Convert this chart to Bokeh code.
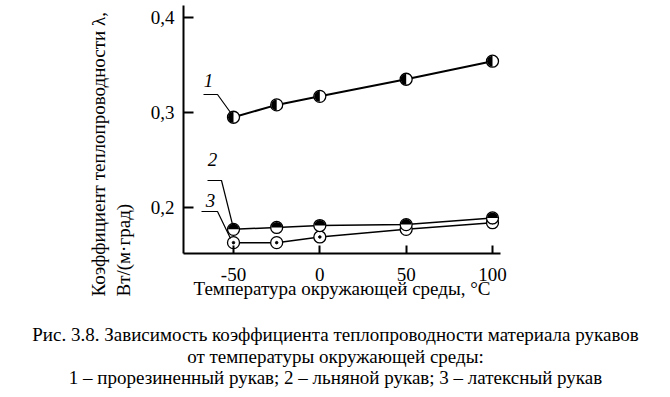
import math
from bokeh.plotting import figure
from bokeh.layouts import row, column
from bokeh.models import Range1d, FixedTicker, Label, Title
from bokeh.embed import file_html
from bokeh.resources import INLINE

# ---- data ----
temperature = [-50, -25, 0, 50, 100]
lambda_rubberized = [0.295, 0.308, 0.317, 0.335, 0.354]   # 1
lambda_linen = [0.177, 0.179, 0.181, 0.182, 0.189]        # 2
lambda_latex = [0.163, 0.163, 0.169, 0.177, 0.184]        # 3

x_ticks = [-50, 0, 50, 100]
x_tick_labels = ["-50", "0", "50", "100"]
y_ticks = [0.2, 0.3, 0.4]
y_tick_labels = ["0,2", "0,3", "0,4"]

x_title = "Температура окружающей среды, °C"
y_title_1 = "Коэффициент теплопроводности λ,"
y_title_2 = "Вт/(м·град)"
caption = [
    "Рис. 3.8. Зависимость коэффициента теплопроводности материала рукавов",
    "от температуры окружающей среды:",
    "1 – прорезиненный рукав; 2 – льняной рукав; 3 – латексный рукав",
]
curve_numbers = ["1", "2", "3"]

FONT = "Liberation Serif"

# ---- layout (pixels of the whole picture) ----
W, H = 654, 389
PH = 310            # height of the plot
CH = H - PH         # height of the caption strip
LEFT, TOP = 183, 5
FRAME_R, FRAME_B = 500, 253
X0, X1 = -78.957, 104.633
Y0, Y1 = 0.151579, 0.412632
SX = (FRAME_R - LEFT) / (X1 - X0)
SY = (FRAME_B - TOP) / (Y1 - Y0)


def dx(px):
    return X0 + (px - LEFT) / SX


def dy(py):
    return Y1 - (py - TOP) / SY


# ---- main plot ----
p = figure(width=W, height=PH, output_backend="svg", toolbar_location=None,
           x_range=Range1d(X0, X1), y_range=Range1d(Y0, Y1),
           min_border_left=LEFT, min_border_right=W - FRAME_R,
           min_border_top=TOP, min_border_bottom=PH - FRAME_B)
p.outline_line_color = None
p.grid.visible = False
p.background_fill_color = "white"
p.border_fill_color = "white"

p.xaxis.ticker = FixedTicker(ticks=x_ticks)
p.xaxis.major_label_overrides = {t: l for t, l in zip(x_ticks, x_tick_labels)}
p.yaxis.ticker = FixedTicker(ticks=y_ticks)
p.yaxis.major_label_overrides = {t: l for t, l in zip(y_ticks, y_tick_labels)}
for ax in (p.xaxis[0], p.yaxis[0]):
    ax.axis_line_color = "black"
    ax.axis_line_width = 2
    ax.major_tick_line_color = "black"
    ax.major_tick_line_width = 2
    ax.major_tick_out = 0
    ax.minor_tick_line_color = None
    ax.major_label_text_font = FONT
    ax.major_label_text_font_size = "19px"
    ax.major_label_text_color = "black"
p.xaxis.major_tick_in = 8
p.yaxis.major_tick_in = 10
p.xaxis.major_label_standoff = 14
p.yaxis.major_label_standoff = 9

p.xaxis.axis_label = x_title
p.xaxis.axis_label_text_font = FONT
p.xaxis.axis_label_text_font_size = "19px"
p.xaxis.axis_label_text_font_style = "normal"
p.xaxis.axis_label_text_color = "black"
p.xaxis.axis_label_standoff = -6

# rotated two-line y title, both lines starting level with the x title
p.add_layout(Title(text=y_title_1 + "\n" + y_title_2, align="left",
                   vertical_align="bottom", offset=-43, standoff=26,
                   text_font=FONT, text_font_size="19px",
                   text_font_style="normal", text_line_height=1.2,
                   text_color="black"), "left")

# lines
p.line(temperature, lambda_rubberized, line_color="black", line_width=2)
p.line(temperature, lambda_linen, line_color="black", line_width=1.5)
p.line(temperature, lambda_latex, line_color="black", line_width=1.5)

# markers
R = 5.5
# 3: open circle with a dot
p.scatter(temperature, lambda_latex, marker="circle", size=2 * R + 1,
          fill_color="white", line_color="black", line_width=1.3)
p.scatter(temperature, lambda_latex, marker="circle", size=2.5,
          fill_color="black", line_color="black")
# 2: upper half black
p.scatter(temperature, lambda_linen, marker="circle", size=2 * R + 1,
          fill_color="white", line_color="black", line_width=1.3)
p.wedge(temperature, lambda_linen, radius=R, radius_units="screen",
        start_angle=0, end_angle=math.pi, fill_color="black", line_color=None)
# 1: left half black
p.scatter(temperature, lambda_rubberized, marker="circle", size=2 * R + 1,
          fill_color="white", line_color="black", line_width=1.3)
p.wedge(temperature, lambda_rubberized, radius=R, radius_units="screen",
        start_angle=math.pi / 2, end_angle=3 * math.pi / 2,
        fill_color="black", line_color=None)

# leader lines from the curve numbers (pixel anchors)
leaders = [
    [(203, 94), (217, 94), (230, 112)],
    [(207, 180), (221, 180), (232, 224)],
    [(201, 211), (217, 211), (230, 238)],
]
for pts in leaders:
    p.line([dx(a) for a, b in pts], [dy(b) for a, b in pts],
           line_color="black", line_width=1.2)

num_pos = [(208, 80), (212, 159), (210, 200)]
for t, (a, b) in zip(curve_numbers, num_pos):
    p.add_layout(Label(x=dx(a), y=dy(b), text=t, text_font=FONT,
                       text_font_size="19px", text_font_style="italic",
                       text_align="center", text_baseline="middle",
                       text_color="black"))

# ---- caption strip ----
cs = figure(width=W, height=CH, output_backend="svg", toolbar_location=None,
            x_range=Range1d(0, W), y_range=Range1d(0, CH),
            x_axis_type=None, y_axis_type=None,
            min_border=0, min_border_left=0, min_border_right=0,
            min_border_top=0, min_border_bottom=0)
cs.outline_line_color = None
cs.grid.visible = False
cs.background_fill_color = "white"
cs.border_fill_color = "white"
for txt, py in zip(caption, [334, 356, 377]):
    cs.add_layout(Label(x=335, y=CH - (py - PH), text=txt,
                        text_font=FONT, text_font_size="19px",
                        text_align="center", text_baseline="middle",
                        text_color="black"))

layout = column(row(p), cs, spacing=0)
open("out.html", "w").write(file_html(layout, INLINE))
